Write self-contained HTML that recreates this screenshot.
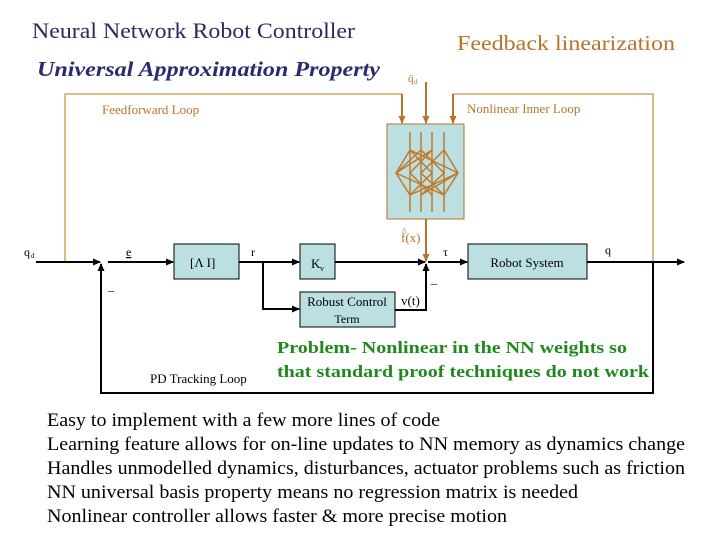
<!DOCTYPE html>
<html><head><meta charset="utf-8"><style>
html,body{margin:0;padding:0;background:#fff;}
svg{display:block;}
</style></head><body>
<svg width="720" height="540" viewBox="0 0 720 540" xmlns="http://www.w3.org/2000/svg" font-family="'Liberation Serif','Times New Roman',serif">
<defs>
<marker id="ab" markerWidth="8" markerHeight="8" refX="7" refY="4" orient="auto" markerUnits="userSpaceOnUse"><path d="M0,0.5 L8,4 L0,7.5 z" fill="#000"/></marker>
<marker id="ao" markerWidth="8" markerHeight="8" refX="7" refY="4" orient="auto" markerUnits="userSpaceOnUse"><path d="M0,0.5 L8,4 L0,7.5 z" fill="#b8732a"/></marker>
</defs>
<text x="32" y="38" font-size="22" fill="#2a2a5e" textLength="323" lengthAdjust="spacingAndGlyphs">Neural Network Robot Controller</text>
<text x="37" y="76" font-size="21" fill="#2a2a6e" font-weight="bold" font-style="italic" textLength="343" lengthAdjust="spacingAndGlyphs">Universal Approximation Property</text>
<text x="457" y="50" font-size="21" fill="#b8732a" textLength="218" lengthAdjust="spacingAndGlyphs">Feedback linearization</text>

<g stroke="#c8964a" stroke-width="1.3" fill="none">
<polyline points="65,262 65,94 402,94"/>
<polyline points="453,94 653,94 653,262"/>
</g>
<g stroke="#b8732a" stroke-width="2" fill="none">
<line x1="402" y1="94" x2="402" y2="123" marker-end="url(#ao)"/>
<line x1="426" y1="82" x2="426" y2="123" marker-end="url(#ao)"/>
<line x1="453" y1="94" x2="453" y2="123" marker-end="url(#ao)"/>
<line x1="426" y1="219" x2="426" y2="261" marker-end="url(#ao)"/>
</g>
<text x="408" y="82" font-size="11" fill="#b8732a">q̈</text><text x="414" y="84" font-size="7" fill="#b8732a">d</text>
<text x="102" y="114" font-size="13" fill="#b8732a">Feedforward Loop</text>
<text x="467" y="113" font-size="13" fill="#b8732a">Nonlinear Inner Loop</text>

<rect x="387" y="124" width="77" height="95" fill="#bcdfe2" stroke="#b8732a" stroke-width="1"/>
<g stroke="#c07a2a" stroke-width="1.5" fill="none">
<line x1="410" y1="132" x2="410" y2="212"/><line x1="421" y1="132" x2="421" y2="212"/>
<line x1="432" y1="132" x2="432" y2="212"/><line x1="444" y1="132" x2="444" y2="212"/>
<path d="M410,150 L396,173 L410,195 M444,150 L458,173 L444,195"/>
<path d="M410,150 L432,173 L410,195 M421,150 L444,173 L421,195 M432,150 L410,173 L432,195 M444,150 L421,173 L444,195"/>
<path d="M396,173 L421,150 M396,173 L432,150 M396,173 L444,195 M458,173 L410,150 M458,173 L421,195 M458,173 L410,195"/>
</g>

<g stroke="#000" stroke-width="2" fill="none">
<line x1="36" y1="262" x2="100" y2="262" marker-end="url(#ab)"/>
<line x1="108" y1="262" x2="173" y2="262" marker-end="url(#ab)"/>
<line x1="239" y1="262" x2="299" y2="262" marker-end="url(#ab)"/>
<line x1="335" y1="262" x2="425" y2="262" marker-end="url(#ab)"/>
<line x1="428" y1="262" x2="467" y2="262" marker-end="url(#ab)"/>
<line x1="587" y1="262" x2="684" y2="262" marker-end="url(#ab)"/>
<polyline points="263,262 263,309 299,309" marker-end="url(#ab)"/>
<polyline points="395,310 426,310 426,264" marker-end="url(#ab)"/>
<polyline points="653,262 653,393 101,393 101,264" marker-end="url(#ab)"/>
</g>
<text x="24" y="256" font-size="12">q</text><text x="31" y="258" font-size="7">d</text>
<text x="126" y="256" font-size="12" text-decoration="underline">e</text>
<text x="108" y="290" font-size="12">_</text>
<text x="251" y="256" font-size="12">r</text>
<text x="443" y="256" font-size="12">τ</text>
<text x="431" y="283" font-size="12">_</text>
<text x="605" y="254" font-size="12">q</text>
<text x="401" y="242" font-size="13" fill="#b8732a">f(x)</text><text x="402" y="235" font-size="10" fill="#b8732a">^</text>
<text x="401" y="305" font-size="13">v(t)</text>

<g fill="#bcdfe2" stroke="#000" stroke-width="1">
<rect x="174" y="244" width="65" height="35"/>
<rect x="300" y="244" width="35" height="35"/>
<rect x="300" y="292" width="95" height="35"/>
<rect x="468" y="244" width="119" height="35"/>
</g>
<text x="190" y="267" font-size="13">[Λ   I]</text>
<text x="311" y="268" font-size="13">K</text><text x="320" y="271" font-size="8">v</text>
<text x="347" y="306" font-size="13" text-anchor="middle">Robust Control</text>
<text x="347" y="323" font-size="12" text-anchor="middle">Term</text>
<text x="527" y="267" font-size="13" text-anchor="middle">Robot System</text>
<text x="150" y="383" font-size="13">PD Tracking Loop</text>

<text x="277" y="353" font-size="17" font-weight="bold" fill="#1e8a1e" textLength="350" lengthAdjust="spacingAndGlyphs">Problem- Nonlinear in the NN weights so</text>
<text x="277" y="377" font-size="17" font-weight="bold" fill="#1e8a1e" textLength="372" lengthAdjust="spacingAndGlyphs">that standard proof techniques do not work</text>

<g font-size="19" fill="#000">
<text x="47" y="426" textLength="393" lengthAdjust="spacingAndGlyphs">Easy to implement with a few more lines of code</text>
<text x="47" y="450" textLength="638" lengthAdjust="spacingAndGlyphs">Learning feature allows for on-line updates to NN memory as dynamics change</text>
<text x="47" y="474" textLength="638" lengthAdjust="spacingAndGlyphs">Handles unmodelled dynamics, disturbances, actuator problems such as friction</text>
<text x="47" y="498" textLength="531" lengthAdjust="spacingAndGlyphs">NN universal basis property means no regression matrix is needed</text>
<text x="47" y="522" textLength="460" lengthAdjust="spacingAndGlyphs">Nonlinear controller allows faster &amp; more precise motion</text>
</g>
</svg>
</body></html>
